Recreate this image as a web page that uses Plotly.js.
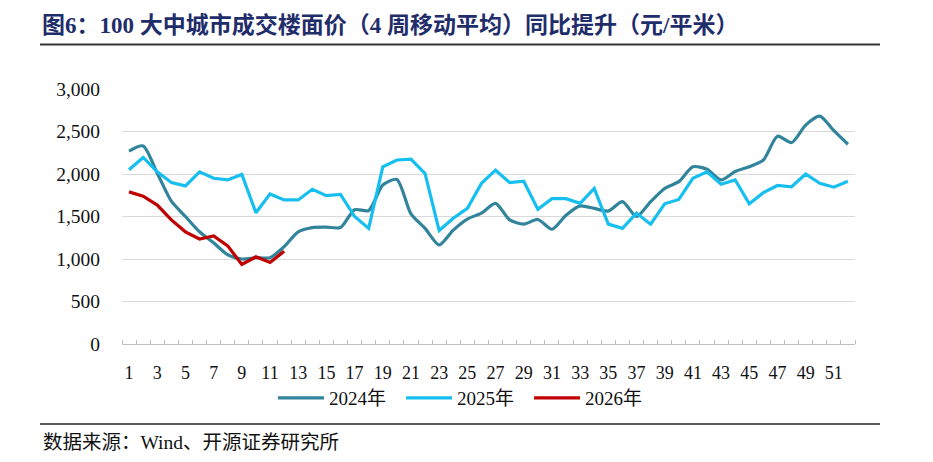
<!DOCTYPE html>
<html>
<head>
<meta charset="utf-8">
<script src="https://cdn.plot.ly/plotly-3.0.1.min.js"></script>
<style>html,body{margin:0;padding:0;background:#fff;}#chart{width:933px;height:462px;}</style>
</head>
<body>
<div id="chart"></div>
<script>
const weeks = [1,2,3,4,5,6,7,8,9,10,11,12,13,14,15,16,17,18,19,20,21,22,23,24,25,26,27,28,29,30,31,32,33,34,35,36,37,38,39,40,41,42,43,44,45,46,47,48,49,50,51,52];
const weeks2026 = [1,2,3,4,5,6,7,8,9,10,11,12];
const y2024 = [2270,2330,2010,1680,1500,1320,1190,1050,1000,1015,
               1015,1145,1320,1370,1375,1370,1580,1570,1870,1935,
               1530,1360,1165,1340,1470,1540,1655,1460,1410,1465,
               1350,1515,1625,1595,1565,1675,1500,1675,1830,1910,
               2085,2055,1930,2030,2085,2165,2445,2370,2575,2680,
               2510,2350];
const y2025 = [2050,2195,2025,1900,1860,2025,1950,1930,1995,1545,
               1765,1695,1695,1820,1745,1760,1500,1360,2085,2165,
               2175,2005,1335,1480,1595,1890,2045,1900,1915,1585,
               1710,1710,1655,1830,1410,1360,1540,1410,1650,1700,
               1950,2025,1880,1930,1650,1780,1865,1850,2000,1890,
               1845,1915];
const y2026 = [1790,1740,1635,1460,1320,1235,1270,1155,935,1025,960,1090];
const seriesNames = ['2024年','2025年','2026年'];
const xTickVals = [1,3,5,7,9,11,13,15,17,19,21,23,25,27,29,31,33,35,37,39,41,43,45,47,49,51];
const yTickVals = [0,500,1000,1500,2000,2500,3000];
const yTickText = ['0','500','1,000','1,500','2,000','2,500','3,000'];
const titleText = '图6：100 大中城市成交楼面价（4 周移动平均）同比提升（元/平米）';
const sourceText = '数据来源：Wind、开源证券研究所';

const serif = '"Liberation Serif", "Times New Roman", "Noto Sans CJK SC", serif';
const W = 933, H = 462, L = 122, R = 855, T = 89, B = 344;
const px = v => (v - L) / (R - L);
const py = v => (B - v) / (B - T);

const traces = [
  {x: weeks, y: y2024, name: seriesNames[0], type: 'scatter', mode: 'lines',
   line: {color: '#31849B', width: 3.2, shape: 'spline', smoothing: 0.7}},
  {x: weeks, y: y2025, name: seriesNames[1], type: 'scatter', mode: 'lines',
   line: {color: '#17BFF0', width: 3.2}},
  {x: weeks2026, y: y2026, name: seriesNames[2], type: 'scatter', mode: 'lines',
   line: {color: '#C00000', width: 3.2}}
];

const layout = {
  width: W, height: H,
  margin: {l: L, r: W - R, t: T, b: H - B},
  paper_bgcolor: '#fff', plot_bgcolor: '#fff',
  showlegend: true,
  title: {text: '<b>' + titleText + '</b>', xref: 'container', yref: 'container',
          x: 42 / W, xanchor: 'left', y: 1 - 25 / H, yanchor: 'middle',
          font: {family: serif, size: 23, color: '#1F2D6B'}},
  xaxis: {range: [0.5, 52.5], tickmode: 'array', tickvals: xTickVals,
          ticks: '', showgrid: false, zeroline: false,
          showline: true, linecolor: '#bfbfbf', linewidth: 1,
          ticklabelstandoff: 12,
          tickfont: {family: serif, size: 18, color: '#111'},
          minor: {tickmode: 'linear', tick0: 0.5, dtick: 1, ticks: 'inside', ticklen: 4, tickcolor: '#bfbfbf', tickwidth: 1, showgrid: false}},
  yaxis: {range: [0, 3000], tickmode: 'array', tickvals: yTickVals, ticktext: yTickText,
          showgrid: true, gridcolor: '#d9d9d9', gridwidth: 1,
          zeroline: false, showline: false, ticks: '',
          ticklabelstandoff: 21,
          tickfont: {family: serif, size: 19.5, color: '#111'}},
  legend: {orientation: 'h', x: 0.468, xanchor: 'center', y: py(398), yanchor: 'middle',
           font: {family: serif, size: 19, color: '#111'}, itemwidth: 46,
           entrywidth: 67, entrywidthmode: 'pixels', traceorder: 'normal'},
  shapes: [
    {type: 'line', xref: 'paper', yref: 'paper', x0: px(40), x1: px(880), y0: py(44.5), y1: py(44.5),
     line: {color: '#333', width: 2}},
    {type: 'line', xref: 'paper', yref: 'paper', x0: px(40), x1: px(880), y0: py(424), y1: py(424),
     line: {color: '#222', width: 1.5}}
  ],
  annotations: [
    {text: sourceText, xref: 'paper', yref: 'paper', x: px(41), y: py(442), xanchor: 'left', yanchor: 'middle',
     showarrow: false, font: {family: serif, size: 19.5, color: '#111'}}
  ]
};

Plotly.newPlot('chart', traces, layout, {displayModeBar: false, staticPlot: true});
</script>
</body>
</html>
